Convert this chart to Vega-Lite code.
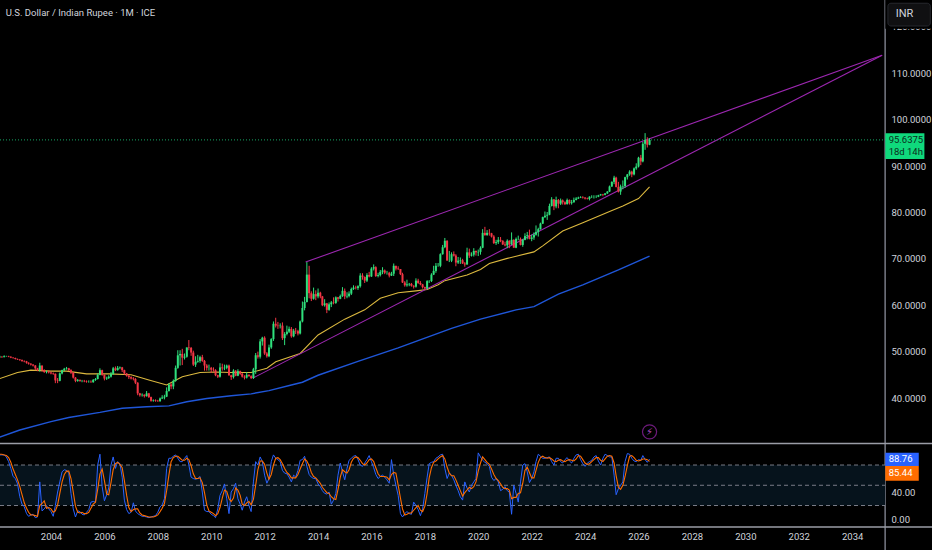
{"$schema":"https://vega.github.io/schema/vega-lite/v6.json","width":932,"height":550,"padding":0,"autosize":{"type":"none"},"background":"#000000","config":{"view":{"stroke":null},"font":"Roboto"},
"datasets":{"candles":[
{"t":"2002-02","o":48.8,"h":49.1,"l":48.7,"c":48.9,"k":95,"d":96},
{"t":"2002-03","o":48.9,"h":49.0,"l":48.7,"c":48.8,"k":95,"d":96},
{"t":"2002-04","o":48.8,"h":49.2,"l":48.8,"c":49.0,"k":95,"d":95},
{"t":"2002-05","o":49.0,"h":49.1,"l":48.9,"c":49.0,"k":92,"d":94},
{"t":"2002-06","o":49.0,"h":49.1,"l":48.8,"c":48.9,"k":85,"d":91},
{"t":"2002-07","o":48.9,"h":49.0,"l":48.6,"c":48.7,"k":75,"d":84},
{"t":"2002-08","o":48.7,"h":48.8,"l":48.5,"c":48.6,"k":63,"d":74},
{"t":"2002-09","o":48.6,"h":48.7,"l":48.3,"c":48.4,"k":60,"d":66},
{"t":"2002-10","o":48.4,"h":48.5,"l":48.2,"c":48.3,"k":52,"d":58},
{"t":"2002-11","o":48.3,"h":48.4,"l":48.0,"c":48.2,"k":33,"d":48},
{"t":"2002-12","o":48.2,"h":48.3,"l":47.8,"c":48.0,"k":22,"d":36},
{"t":"2003-01","o":48.0,"h":48.1,"l":47.7,"c":47.9,"k":18,"d":24},
{"t":"2003-02","o":47.9,"h":48.0,"l":47.4,"c":47.6,"k":8,"d":16},
{"t":"2003-03","o":47.6,"h":47.7,"l":47.2,"c":47.4,"k":4,"d":10},
{"t":"2003-04","o":47.4,"h":47.5,"l":47.0,"c":47.2,"k":6,"d":6},
{"t":"2003-05","o":47.2,"h":47.3,"l":46.8,"c":47.0,"k":7,"d":6},
{"t":"2003-06","o":47.0,"h":47.1,"l":46.0,"c":46.4,"k":2,"d":5},
{"t":"2003-07","o":46.4,"h":46.5,"l":45.8,"c":46.0,"k":3,"d":4},
{"t":"2003-08","o":46.0,"h":47.6,"l":45.7,"c":47.0,"k":55,"d":20},
{"t":"2003-09","o":47.0,"h":47.0,"l":45.7,"c":46.0,"k":12,"d":23},
{"t":"2003-10","o":46.0,"h":46.2,"l":45.4,"c":45.6,"k":15,"d":27},
{"t":"2003-11","o":45.6,"h":45.9,"l":45.3,"c":45.7,"k":20,"d":16},
{"t":"2003-12","o":45.7,"h":45.9,"l":45.3,"c":45.5,"k":15,"d":17},
{"t":"2004-01","o":45.5,"h":45.7,"l":45.1,"c":45.3,"k":11,"d":15},
{"t":"2004-02","o":45.3,"h":45.5,"l":45.0,"c":45.2,"k":4,"d":10},
{"t":"2004-03","o":45.2,"h":45.3,"l":43.2,"c":43.8,"k":20,"d":12},
{"t":"2004-04","o":43.8,"h":44.3,"l":43.2,"c":43.7,"k":40,"d":21},
{"t":"2004-05","o":43.7,"h":45.5,"l":43.6,"c":45.3,"k":55,"d":38},
{"t":"2004-06","o":45.3,"h":46.1,"l":45.1,"c":46.0,"k":70,"d":55},
{"t":"2004-07","o":46.0,"h":46.5,"l":45.8,"c":46.3,"k":73,"d":66},
{"t":"2004-08","o":46.3,"h":46.7,"l":46.1,"c":46.4,"k":72,"d":71},
{"t":"2004-09","o":46.4,"h":46.5,"l":45.8,"c":46.0,"k":68,"d":71},
{"t":"2004-10","o":46.0,"h":46.2,"l":45.2,"c":45.5,"k":38,"d":60},
{"t":"2004-11","o":45.5,"h":45.6,"l":44.2,"c":44.4,"k":15,"d":40},
{"t":"2004-12","o":44.4,"h":44.5,"l":43.4,"c":43.7,"k":3,"d":19},
{"t":"2005-01","o":43.7,"h":44.1,"l":43.5,"c":43.9,"k":12,"d":10},
{"t":"2005-02","o":43.9,"h":44.0,"l":43.5,"c":43.7,"k":11,"d":9},
{"t":"2005-03","o":43.7,"h":43.9,"l":43.4,"c":43.7,"k":7,"d":10},
{"t":"2005-04","o":43.7,"h":43.9,"l":43.4,"c":43.6,"k":6,"d":8},
{"t":"2005-05","o":43.6,"h":43.8,"l":43.3,"c":43.5,"k":10,"d":8},
{"t":"2005-06","o":43.5,"h":43.8,"l":43.3,"c":43.5,"k":14,"d":10},
{"t":"2005-07","o":43.5,"h":43.8,"l":43.3,"c":43.4,"k":25,"d":16},
{"t":"2005-08","o":43.4,"h":44.1,"l":43.3,"c":43.9,"k":26,"d":22},
{"t":"2005-09","o":43.9,"h":44.3,"l":43.7,"c":44.1,"k":25,"d":25},
{"t":"2005-10","o":44.1,"h":45.3,"l":44.0,"c":45.0,"k":80,"d":44},
{"t":"2005-11","o":45.0,"h":46.4,"l":44.9,"c":46.0,"k":96,"d":67},
{"t":"2005-12","o":46.0,"h":46.1,"l":44.8,"c":45.0,"k":48,"d":74},
{"t":"2006-01","o":45.0,"h":45.1,"l":43.8,"c":44.2,"k":27,"d":57},
{"t":"2006-02","o":44.2,"h":44.6,"l":43.9,"c":44.3,"k":36,"d":37},
{"t":"2006-03","o":44.3,"h":44.9,"l":44.1,"c":44.6,"k":46,"d":36},
{"t":"2006-04","o":44.6,"h":45.6,"l":44.4,"c":45.2,"k":80,"d":54},
{"t":"2006-05","o":45.2,"h":46.7,"l":45.0,"c":46.4,"k":92,"d":73},
{"t":"2006-06","o":46.4,"h":46.8,"l":45.8,"c":46.0,"k":75,"d":82},
{"t":"2006-07","o":46.0,"h":46.9,"l":45.9,"c":46.5,"k":85,"d":84},
{"t":"2006-08","o":46.5,"h":46.8,"l":46.2,"c":46.6,"k":82,"d":81},
{"t":"2006-09","o":46.6,"h":46.7,"l":45.6,"c":46.0,"k":62,"d":76},
{"t":"2006-10","o":46.0,"h":46.1,"l":45.0,"c":45.3,"k":28,"d":57},
{"t":"2006-11","o":45.3,"h":45.4,"l":44.6,"c":44.8,"k":14,"d":35},
{"t":"2006-12","o":44.8,"h":45.0,"l":44.1,"c":44.5,"k":8,"d":17},
{"t":"2007-01","o":44.5,"h":44.7,"l":44.0,"c":44.2,"k":10,"d":11},
{"t":"2007-02","o":44.2,"h":44.5,"l":43.8,"c":44.1,"k":24,"d":14},
{"t":"2007-03","o":44.1,"h":44.3,"l":43.0,"c":43.3,"k":12,"d":15},
{"t":"2007-04","o":43.3,"h":43.4,"l":40.6,"c":41.0,"k":8,"d":15},
{"t":"2007-05","o":41.0,"h":41.1,"l":40.3,"c":40.6,"k":6,"d":9},
{"t":"2007-06","o":40.6,"h":41.0,"l":40.3,"c":40.7,"k":4,"d":6},
{"t":"2007-07","o":40.7,"h":40.8,"l":40.1,"c":40.4,"k":4,"d":5},
{"t":"2007-08","o":40.4,"h":41.5,"l":40.3,"c":41.0,"k":3,"d":4},
{"t":"2007-09","o":41.0,"h":41.1,"l":40.0,"c":40.2,"k":2,"d":3},
{"t":"2007-10","o":40.2,"h":40.3,"l":39.2,"c":39.4,"k":3,"d":3},
{"t":"2007-11","o":39.4,"h":39.7,"l":39.2,"c":39.5,"k":4,"d":3},
{"t":"2007-12","o":39.5,"h":39.7,"l":39.2,"c":39.4,"k":5,"d":4},
{"t":"2008-01","o":39.4,"h":39.6,"l":39.2,"c":39.3,"k":10,"d":6},
{"t":"2008-02","o":39.3,"h":40.1,"l":39.2,"c":39.9,"k":18,"d":11},
{"t":"2008-03","o":39.9,"h":40.6,"l":39.8,"c":40.1,"k":21,"d":16},
{"t":"2008-04","o":40.1,"h":40.7,"l":39.7,"c":40.3,"k":30,"d":23},
{"t":"2008-05","o":40.3,"h":42.3,"l":40.2,"c":41.5,"k":75,"d":42},
{"t":"2008-06","o":41.5,"h":43.2,"l":41.4,"c":42.9,"k":90,"d":65},
{"t":"2008-07","o":42.9,"h":43.2,"l":41.9,"c":42.5,"k":90,"d":85},
{"t":"2008-08","o":42.5,"h":44.0,"l":41.9,"c":43.7,"k":93,"d":91},
{"t":"2008-09","o":43.7,"h":47.0,"l":43.5,"c":46.5,"k":95,"d":93},
{"t":"2008-10","o":46.5,"h":50.3,"l":46.3,"c":49.2,"k":90,"d":93},
{"t":"2008-11","o":49.2,"h":50.3,"l":47.0,"c":49.5,"k":85,"d":90},
{"t":"2008-12","o":49.5,"h":50.6,"l":47.1,"c":48.7,"k":85,"d":87},
{"t":"2009-01","o":48.7,"h":49.6,"l":48.3,"c":48.9,"k":90,"d":87},
{"t":"2009-02","o":48.9,"h":50.9,"l":48.7,"c":50.9,"k":94,"d":90},
{"t":"2009-03","o":50.9,"h":52.5,"l":50.3,"c":50.8,"k":80,"d":88},
{"t":"2009-04","o":50.8,"h":51.0,"l":49.1,"c":49.8,"k":62,"d":79},
{"t":"2009-05","o":49.8,"h":50.2,"l":46.9,"c":47.2,"k":60,"d":67},
{"t":"2009-06","o":47.2,"h":49.0,"l":46.7,"c":47.8,"k":59,"d":60},
{"t":"2009-07","o":47.8,"h":49.3,"l":47.6,"c":48.0,"k":60,"d":60},
{"t":"2009-08","o":48.0,"h":49.1,"l":47.6,"c":48.8,"k":63,"d":61},
{"t":"2009-09","o":48.8,"h":49.3,"l":47.8,"c":48.0,"k":40,"d":54},
{"t":"2009-10","o":48.0,"h":48.2,"l":45.9,"c":47.0,"k":13,"d":39},
{"t":"2009-11","o":47.0,"h":47.3,"l":45.9,"c":46.5,"k":11,"d":21},
{"t":"2009-12","o":46.5,"h":47.2,"l":45.9,"c":46.5,"k":11,"d":12},
{"t":"2010-01","o":46.5,"h":46.7,"l":45.4,"c":46.1,"k":7,"d":10},
{"t":"2010-02","o":46.1,"h":46.6,"l":45.7,"c":46.0,"k":5,"d":8},
{"t":"2010-03","o":46.0,"h":46.2,"l":44.7,"c":44.9,"k":2,"d":5},
{"t":"2010-04","o":44.9,"h":45.0,"l":44.3,"c":44.6,"k":15,"d":8},
{"t":"2010-05","o":44.6,"h":47.5,"l":44.4,"c":46.6,"k":35,"d":17},
{"t":"2010-06","o":46.6,"h":47.4,"l":45.9,"c":46.4,"k":42,"d":31},
{"t":"2010-07","o":46.4,"h":47.2,"l":46.0,"c":46.5,"k":52,"d":43},
{"t":"2010-08","o":46.5,"h":47.2,"l":46.2,"c":47.0,"k":30,"d":41},
{"t":"2010-09","o":47.0,"h":47.2,"l":44.8,"c":44.9,"k":8,"d":30},
{"t":"2010-10","o":44.9,"h":45.0,"l":43.9,"c":44.5,"k":40,"d":26},
{"t":"2010-11","o":44.5,"h":46.2,"l":44.2,"c":45.9,"k":45,"d":31},
{"t":"2010-12","o":45.9,"h":46.0,"l":44.7,"c":44.8,"k":53,"d":46},
{"t":"2011-01","o":44.8,"h":46.2,"l":44.7,"c":45.8,"k":30,"d":43},
{"t":"2011-02","o":45.8,"h":45.9,"l":45.0,"c":45.2,"k":22,"d":35},
{"t":"2011-03","o":45.2,"h":45.4,"l":44.4,"c":44.6,"k":13,"d":22},
{"t":"2011-04","o":44.6,"h":44.9,"l":44.0,"c":44.4,"k":25,"d":20},
{"t":"2011-05","o":44.4,"h":45.6,"l":44.2,"c":45.0,"k":33,"d":24},
{"t":"2011-06","o":45.0,"h":45.1,"l":44.6,"c":44.7,"k":20,"d":26},
{"t":"2011-07","o":44.7,"h":44.9,"l":44.1,"c":44.3,"k":11,"d":21},
{"t":"2011-08","o":44.3,"h":46.5,"l":44.1,"c":46.2,"k":55,"d":29},
{"t":"2011-09","o":46.2,"h":49.7,"l":45.2,"c":49.2,"k":85,"d":50},
{"t":"2011-10","o":49.2,"h":50.0,"l":48.5,"c":48.9,"k":80,"d":73},
{"t":"2011-11","o":48.9,"h":52.7,"l":48.5,"c":52.2,"k":92,"d":86},
{"t":"2011-12","o":52.2,"h":53.2,"l":51.3,"c":53.0,"k":85,"d":86},
{"t":"2012-01","o":53.0,"h":53.3,"l":49.3,"c":49.6,"k":65,"d":81},
{"t":"2012-02","o":49.6,"h":49.9,"l":48.7,"c":49.0,"k":53,"d":68},
{"t":"2012-03","o":49.0,"h":51.5,"l":48.8,"c":50.9,"k":60,"d":59},
{"t":"2012-04","o":50.9,"h":52.9,"l":50.6,"c":52.7,"k":85,"d":66},
{"t":"2012-05","o":52.7,"h":56.5,"l":52.3,"c":56.0,"k":95,"d":80},
{"t":"2012-06","o":56.0,"h":57.3,"l":55.2,"c":55.6,"k":90,"d":90},
{"t":"2012-07","o":55.6,"h":56.4,"l":54.9,"c":55.5,"k":88,"d":91},
{"t":"2012-08","o":55.5,"h":56.1,"l":55.0,"c":55.6,"k":85,"d":88},
{"t":"2012-09","o":55.6,"h":56.3,"l":52.5,"c":52.9,"k":72,"d":82},
{"t":"2012-10","o":52.9,"h":54.2,"l":51.4,"c":53.8,"k":68,"d":75},
{"t":"2012-11","o":53.8,"h":55.6,"l":53.5,"c":54.3,"k":67,"d":69},
{"t":"2012-12","o":54.3,"h":55.4,"l":54.0,"c":54.9,"k":62,"d":66},
{"t":"2013-01","o":54.9,"h":55.3,"l":53.0,"c":53.3,"k":55,"d":61},
{"t":"2013-02","o":53.3,"h":54.9,"l":53.1,"c":54.5,"k":65,"d":61},
{"t":"2013-03","o":54.5,"h":55.1,"l":53.8,"c":54.4,"k":62,"d":61},
{"t":"2013-04","o":54.4,"h":54.7,"l":53.5,"c":53.9,"k":72,"d":66},
{"t":"2013-05","o":53.9,"h":56.7,"l":53.7,"c":56.5,"k":87,"d":74},
{"t":"2013-06","o":56.5,"h":60.8,"l":56.3,"c":59.4,"k":88,"d":82},
{"t":"2013-07","o":59.4,"h":61.8,"l":58.9,"c":60.7,"k":93,"d":89},
{"t":"2013-08","o":60.7,"h":69.3,"l":60.6,"c":66.6,"k":78,"d":86},
{"t":"2013-09","o":66.6,"h":68.5,"l":61.5,"c":62.6,"k":66,"d":79},
{"t":"2013-10","o":62.6,"h":63.0,"l":60.9,"c":61.4,"k":62,"d":69},
{"t":"2013-11","o":61.4,"h":63.8,"l":61.2,"c":62.4,"k":60,"d":63},
{"t":"2013-12","o":62.4,"h":63.2,"l":61.1,"c":61.9,"k":60,"d":61},
{"t":"2014-01","o":61.9,"h":63.6,"l":61.5,"c":62.7,"k":52,"d":57},
{"t":"2014-02","o":62.7,"h":62.9,"l":61.5,"c":61.9,"k":48,"d":53},
{"t":"2014-03","o":61.9,"h":62.0,"l":59.8,"c":60.0,"k":42,"d":47},
{"t":"2014-04","o":60.0,"h":61.3,"l":59.7,"c":60.4,"k":38,"d":43},
{"t":"2014-05","o":60.4,"h":60.5,"l":58.3,"c":59.0,"k":37,"d":39},
{"t":"2014-06","o":59.0,"h":60.6,"l":58.8,"c":60.2,"k":40,"d":38},
{"t":"2014-07","o":60.2,"h":60.9,"l":59.6,"c":60.6,"k":22,"d":33},
{"t":"2014-08","o":60.6,"h":61.7,"l":60.2,"c":60.5,"k":28,"d":30},
{"t":"2014-09","o":60.5,"h":61.9,"l":60.3,"c":61.7,"k":38,"d":29},
{"t":"2014-10","o":61.7,"h":61.8,"l":60.8,"c":61.4,"k":65,"d":44},
{"t":"2014-11","o":61.4,"h":62.3,"l":61.3,"c":62.0,"k":83,"d":62},
{"t":"2014-12","o":62.0,"h":63.9,"l":61.8,"c":63.1,"k":70,"d":73},
{"t":"2015-01","o":63.1,"h":63.6,"l":61.3,"c":61.9,"k":58,"d":70},
{"t":"2015-02","o":61.9,"h":62.8,"l":61.5,"c":62.0,"k":75,"d":68},
{"t":"2015-03","o":62.0,"h":63.0,"l":61.7,"c":62.5,"k":87,"d":73},
{"t":"2015-04","o":62.5,"h":63.8,"l":62.2,"c":63.5,"k":90,"d":84},
{"t":"2015-05","o":63.5,"h":64.3,"l":63.3,"c":63.8,"k":93,"d":90},
{"t":"2015-06","o":63.8,"h":64.2,"l":63.4,"c":63.7,"k":94,"d":92},
{"t":"2015-07","o":63.7,"h":64.3,"l":63.3,"c":64.1,"k":88,"d":91},
{"t":"2015-08","o":64.1,"h":66.9,"l":63.8,"c":66.4,"k":80,"d":87},
{"t":"2015-09","o":66.4,"h":66.9,"l":65.5,"c":66.1,"k":78,"d":82},
{"t":"2015-10","o":66.1,"h":66.2,"l":64.8,"c":65.3,"k":83,"d":80},
{"t":"2015-11","o":65.3,"h":66.9,"l":65.0,"c":66.5,"k":88,"d":83},
{"t":"2015-12","o":66.5,"h":67.2,"l":66.0,"c":66.2,"k":94,"d":88},
{"t":"2016-01","o":66.2,"h":68.2,"l":66.1,"c":67.9,"k":85,"d":89},
{"t":"2016-02","o":67.9,"h":68.8,"l":67.5,"c":68.2,"k":76,"d":85},
{"t":"2016-03","o":68.2,"h":68.4,"l":66.1,"c":66.3,"k":66,"d":76},
{"t":"2016-04","o":66.3,"h":67.0,"l":66.0,"c":66.5,"k":60,"d":67},
{"t":"2016-05","o":66.5,"h":67.6,"l":66.2,"c":67.2,"k":63,"d":63},
{"t":"2016-06","o":67.2,"h":68.2,"l":66.7,"c":67.5,"k":65,"d":63},
{"t":"2016-07","o":67.5,"h":67.7,"l":66.7,"c":67.0,"k":62,"d":63},
{"t":"2016-08","o":67.0,"h":67.4,"l":66.6,"c":67.0,"k":58,"d":62},
{"t":"2016-09","o":67.0,"h":67.2,"l":66.0,"c":66.4,"k":53,"d":58},
{"t":"2016-10","o":66.4,"h":67.2,"l":66.3,"c":66.8,"k":88,"d":66},
{"t":"2016-11","o":66.8,"h":69.0,"l":66.3,"c":68.5,"k":65,"d":69},
{"t":"2016-12","o":68.5,"h":68.5,"l":67.5,"c":67.9,"k":50,"d":68},
{"t":"2017-01","o":67.9,"h":68.4,"l":67.6,"c":67.8,"k":35,"d":50},
{"t":"2017-02","o":67.8,"h":67.8,"l":66.5,"c":66.7,"k":8,"d":31},
{"t":"2017-03","o":66.7,"h":67.0,"l":64.8,"c":64.9,"k":3,"d":15},
{"t":"2017-04","o":64.9,"h":65.2,"l":64.0,"c":64.3,"k":8,"d":6},
{"t":"2017-05","o":64.3,"h":65.5,"l":64.0,"c":64.5,"k":11,"d":7},
{"t":"2017-06","o":64.5,"h":64.8,"l":64.1,"c":64.6,"k":8,"d":9},
{"t":"2017-07","o":64.6,"h":64.8,"l":64.0,"c":64.2,"k":7,"d":9},
{"t":"2017-08","o":64.2,"h":64.3,"l":63.6,"c":64.0,"k":25,"d":13},
{"t":"2017-09","o":64.0,"h":65.8,"l":63.8,"c":65.3,"k":20,"d":17},
{"t":"2017-10","o":65.3,"h":65.7,"l":64.6,"c":64.8,"k":14,"d":20},
{"t":"2017-11","o":64.8,"h":65.2,"l":64.3,"c":64.5,"k":5,"d":13},
{"t":"2017-12","o":64.5,"h":64.6,"l":63.6,"c":63.9,"k":15,"d":11},
{"t":"2018-01","o":63.9,"h":64.0,"l":63.3,"c":63.6,"k":38,"d":19},
{"t":"2018-02","o":63.6,"h":65.4,"l":63.5,"c":65.2,"k":62,"d":38},
{"t":"2018-03","o":65.2,"h":65.4,"l":64.8,"c":65.2,"k":82,"d":61},
{"t":"2018-04","o":65.2,"h":66.9,"l":65.0,"c":66.6,"k":84,"d":76},
{"t":"2018-05","o":66.6,"h":68.5,"l":66.5,"c":67.4,"k":85,"d":84},
{"t":"2018-06","o":67.4,"h":69.1,"l":67.0,"c":68.5,"k":90,"d":86},
{"t":"2018-07","o":68.5,"h":69.1,"l":68.3,"c":68.5,"k":92,"d":89},
{"t":"2018-08","o":68.5,"h":71.2,"l":68.2,"c":71.0,"k":95,"d":92},
{"t":"2018-09","o":71.0,"h":73.0,"l":70.9,"c":72.5,"k":96,"d":94},
{"t":"2018-10","o":72.5,"h":74.5,"l":72.3,"c":73.9,"k":75,"d":89},
{"t":"2018-11","o":73.9,"h":74.0,"l":69.7,"c":69.6,"k":60,"d":77},
{"t":"2018-12","o":69.6,"h":71.7,"l":69.3,"c":69.6,"k":68,"d":68},
{"t":"2019-01","o":69.6,"h":71.4,"l":69.3,"c":71.0,"k":65,"d":64},
{"t":"2019-02","o":71.0,"h":71.6,"l":70.5,"c":70.7,"k":58,"d":64},
{"t":"2019-03","o":70.7,"h":71.0,"l":68.4,"c":69.2,"k":50,"d":58},
{"t":"2019-04","o":69.2,"h":70.4,"l":68.9,"c":69.6,"k":42,"d":50},
{"t":"2019-05","o":69.6,"h":70.3,"l":68.9,"c":69.7,"k":33,"d":42},
{"t":"2019-06","o":69.7,"h":70.0,"l":68.9,"c":69.0,"k":28,"d":34},
{"t":"2019-07","o":69.0,"h":69.3,"l":68.3,"c":68.8,"k":55,"d":39},
{"t":"2019-08","o":68.8,"h":72.4,"l":68.7,"c":71.4,"k":46,"d":43},
{"t":"2019-09","o":71.4,"h":72.2,"l":70.2,"c":70.7,"k":40,"d":47},
{"t":"2019-10","o":70.7,"h":71.4,"l":70.5,"c":70.9,"k":50,"d":45},
{"t":"2019-11","o":70.9,"h":72.3,"l":70.5,"c":71.7,"k":55,"d":48},
{"t":"2019-12","o":71.7,"h":71.8,"l":70.7,"c":71.4,"k":60,"d":55},
{"t":"2020-01","o":71.4,"h":72.0,"l":70.6,"c":71.5,"k":98,"d":71},
{"t":"2020-02","o":71.5,"h":72.7,"l":70.9,"c":72.4,"k":92,"d":83},
{"t":"2020-03","o":72.4,"h":76.4,"l":72.3,"c":75.6,"k":87,"d":92},
{"t":"2020-04","o":75.6,"h":76.9,"l":75.0,"c":75.1,"k":84,"d":88},
{"t":"2020-05","o":75.1,"h":76.2,"l":75.0,"c":75.6,"k":82,"d":84},
{"t":"2020-06","o":75.6,"h":76.4,"l":75.0,"c":75.5,"k":78,"d":81},
{"t":"2020-07","o":75.5,"h":75.6,"l":74.6,"c":74.8,"k":62,"d":74},
{"t":"2020-08","o":74.8,"h":75.1,"l":73.2,"c":73.4,"k":57,"d":66},
{"t":"2020-09","o":73.4,"h":74.1,"l":73.0,"c":73.6,"k":60,"d":60},
{"t":"2020-10","o":73.6,"h":74.7,"l":73.2,"c":74.1,"k":55,"d":57},
{"t":"2020-11","o":74.1,"h":74.7,"l":73.6,"c":73.9,"k":42,"d":52},
{"t":"2020-12","o":73.9,"h":74.0,"l":73.0,"c":73.1,"k":44,"d":47},
{"t":"2021-01","o":73.1,"h":73.7,"l":72.7,"c":72.9,"k":48,"d":45},
{"t":"2021-02","o":72.9,"h":74.2,"l":72.3,"c":73.9,"k":42,"d":45},
{"t":"2021-03","o":73.9,"h":74.0,"l":72.3,"c":73.1,"k":40,"d":43},
{"t":"2021-04","o":73.1,"h":75.7,"l":73.0,"c":74.1,"k":7,"d":30},
{"t":"2021-05","o":74.1,"h":74.2,"l":72.4,"c":72.4,"k":50,"d":32},
{"t":"2021-06","o":72.4,"h":74.6,"l":72.3,"c":74.3,"k":38,"d":32},
{"t":"2021-07","o":74.3,"h":75.0,"l":74.0,"c":74.3,"k":25,"d":38},
{"t":"2021-08","o":74.3,"h":74.6,"l":72.9,"c":73.0,"k":55,"d":39},
{"t":"2021-09","o":73.0,"h":74.3,"l":72.6,"c":74.1,"k":80,"d":53},
{"t":"2021-10","o":74.1,"h":75.5,"l":74.0,"c":74.9,"k":82,"d":72},
{"t":"2021-11","o":74.9,"h":75.8,"l":74.2,"c":75.1,"k":70,"d":77},
{"t":"2021-12","o":75.1,"h":76.3,"l":74.2,"c":74.3,"k":54,"d":69},
{"t":"2022-01","o":74.3,"h":75.2,"l":73.8,"c":74.6,"k":60,"d":61},
{"t":"2022-02","o":74.6,"h":75.7,"l":74.1,"c":75.2,"k":70,"d":61},
{"t":"2022-03","o":75.2,"h":77.2,"l":75.0,"c":75.8,"k":85,"d":72},
{"t":"2022-04","o":75.8,"h":76.7,"l":74.8,"c":76.4,"k":96,"d":84},
{"t":"2022-05","o":76.4,"h":77.8,"l":76.3,"c":77.6,"k":93,"d":91},
{"t":"2022-06","o":77.6,"h":79.1,"l":77.5,"c":79.0,"k":90,"d":93},
{"t":"2022-07","o":79.0,"h":80.2,"l":78.8,"c":79.3,"k":90,"d":91},
{"t":"2022-08","o":79.3,"h":80.1,"l":78.4,"c":79.5,"k":91,"d":90},
{"t":"2022-09","o":79.5,"h":81.9,"l":79.4,"c":81.4,"k":92,"d":91},
{"t":"2022-10","o":81.4,"h":83.3,"l":81.3,"c":82.8,"k":85,"d":89},
{"t":"2022-11","o":82.8,"h":82.9,"l":80.5,"c":81.3,"k":80,"d":86},
{"t":"2022-12","o":81.3,"h":83.4,"l":80.9,"c":82.7,"k":90,"d":85},
{"t":"2023-01","o":82.7,"h":82.9,"l":80.9,"c":81.9,"k":90,"d":87},
{"t":"2023-02","o":81.9,"h":83.0,"l":81.6,"c":82.6,"k":85,"d":88},
{"t":"2023-03","o":82.6,"h":82.8,"l":81.7,"c":82.2,"k":83,"d":86},
{"t":"2023-04","o":82.2,"h":82.4,"l":81.6,"c":81.8,"k":88,"d":85},
{"t":"2023-05","o":81.8,"h":83.0,"l":81.7,"c":82.7,"k":91,"d":87},
{"t":"2023-06","o":82.7,"h":82.8,"l":81.7,"c":82.0,"k":86,"d":88},
{"t":"2023-07","o":82.0,"h":82.7,"l":81.7,"c":82.2,"k":83,"d":87},
{"t":"2023-08","o":82.2,"h":83.2,"l":82.1,"c":82.7,"k":90,"d":86},
{"t":"2023-09","o":82.7,"h":83.3,"l":82.6,"c":83.0,"k":95,"d":89},
{"t":"2023-10","o":83.0,"h":83.4,"l":82.9,"c":83.2,"k":96,"d":94},
{"t":"2023-11","o":83.2,"h":83.5,"l":83.1,"c":83.3,"k":88,"d":93},
{"t":"2023-12","o":83.3,"h":83.5,"l":83.0,"c":83.2,"k":82,"d":88},
{"t":"2024-01","o":83.2,"h":83.3,"l":82.8,"c":83.0,"k":78,"d":83},
{"t":"2024-02","o":83.0,"h":83.2,"l":82.8,"c":82.9,"k":83,"d":81},
{"t":"2024-03","o":82.9,"h":83.5,"l":82.6,"c":83.4,"k":85,"d":82},
{"t":"2024-04","o":83.4,"h":83.7,"l":83.1,"c":83.4,"k":87,"d":85},
{"t":"2024-05","o":83.4,"h":83.7,"l":83.0,"c":83.4,"k":92,"d":88},
{"t":"2024-06","o":83.4,"h":83.7,"l":83.1,"c":83.4,"k":94,"d":91},
{"t":"2024-07","o":83.4,"h":83.8,"l":83.3,"c":83.7,"k":86,"d":91},
{"t":"2024-08","o":83.7,"h":84.0,"l":83.6,"c":83.9,"k":80,"d":87},
{"t":"2024-09","o":83.9,"h":84.0,"l":83.5,"c":83.8,"k":90,"d":85},
{"t":"2024-10","o":83.8,"h":84.2,"l":83.7,"c":84.1,"k":96,"d":89},
{"t":"2024-11","o":84.1,"h":84.6,"l":84.0,"c":84.5,"k":94,"d":93},
{"t":"2024-12","o":84.5,"h":85.8,"l":84.4,"c":85.6,"k":92,"d":94},
{"t":"2025-01","o":85.6,"h":86.7,"l":85.5,"c":86.6,"k":92,"d":93},
{"t":"2025-02","o":86.6,"h":87.9,"l":86.1,"c":87.5,"k":65,"d":83},
{"t":"2025-03","o":87.5,"h":87.7,"l":85.4,"c":85.5,"k":36,"d":64},
{"t":"2025-04","o":85.5,"h":86.6,"l":84.3,"c":84.5,"k":45,"d":47},
{"t":"2025-05","o":84.5,"h":86.0,"l":83.8,"c":85.6,"k":50,"d":44},
{"t":"2025-06","o":85.6,"h":86.9,"l":85.0,"c":85.7,"k":55,"d":50},
{"t":"2025-07","o":85.7,"h":87.7,"l":85.3,"c":87.6,"k":85,"d":63},
{"t":"2025-08","o":87.6,"h":88.3,"l":87.1,"c":88.2,"k":97,"d":79},
{"t":"2025-09","o":88.2,"h":89.1,"l":87.9,"c":88.8,"k":96,"d":93},
{"t":"2025-10","o":88.8,"h":89.0,"l":87.6,"c":88.2,"k":90,"d":94},
{"t":"2025-11","o":88.2,"h":89.7,"l":88.0,"c":89.5,"k":86,"d":91},
{"t":"2025-12","o":89.5,"h":90.6,"l":89.2,"c":89.9,"k":85,"d":87},
{"t":"2026-01","o":89.9,"h":92.0,"l":89.7,"c":91.8,"k":88,"d":86},
{"t":"2026-02","o":91.8,"h":92.4,"l":90.2,"c":91.0,"k":87,"d":87},
{"t":"2026-03","o":91.0,"h":95.2,"l":90.8,"c":94.8,"k":94,"d":89},
{"t":"2026-04","o":94.8,"h":97.1,"l":93.5,"c":95.6,"k":88,"d":89},
{"t":"2026-05","o":95.6,"h":96.2,"l":94.0,"c":94.6,"k":84,"d":88},
{"t":"2026-06","o":94.6,"h":96.0,"l":94.5,"c":95.64,"k":88.76,"d":85.44}
],
"ma50":[{"t":"2002-02","v":44.2},{"t":"2002-10","v":45.5},{"t":"2003-04","v":46.0},{"t":"2004-01","v":45.8},{"t":"2004-08","v":45.8},{"t":"2005-05","v":45.2},{"t":"2006-03","v":45.2},{"t":"2007-01","v":45.0},{"t":"2007-09","v":43.9},{"t":"2008-05","v":42.8},{"t":"2008-12","v":44.6},{"t":"2009-08","v":45.5},{"t":"2010-03","v":45.6},{"t":"2010-10","v":45.5},{"t":"2011-07","v":45.5},{"t":"2012-02","v":46.4},{"t":"2012-06","v":47.8},{"t":"2013-05","v":49.6},{"t":"2014-01","v":53.6},{"t":"2015-01","v":57.0},{"t":"2015-10","v":59.0},{"t":"2016-05","v":61.5},{"t":"2017-01","v":62.7},{"t":"2017-09","v":63.1},{"t":"2018-02","v":63.4},{"t":"2018-07","v":64.4},{"t":"2018-10","v":65.3},{"t":"2019-08","v":66.5},{"t":"2020-02","v":67.7},{"t":"2020-06","v":69.0},{"t":"2021-02","v":70.1},{"t":"2022-02","v":71.5},{"t":"2022-06","v":72.8},{"t":"2023-03","v":76.0},{"t":"2023-12","v":77.8},{"t":"2024-12","v":80.2},{"t":"2025-06","v":81.4},{"t":"2026-01","v":83.0},{"t":"2026-06","v":85.5}],
"ma200":[{"t":"2002-02","v":31.6},{"t":"2002-11","v":33.1},{"t":"2004-01","v":34.9},{"t":"2004-09","v":35.8},{"t":"2005-11","v":36.9},{"t":"2006-09","v":37.8},{"t":"2007-08","v":38.1},{"t":"2008-06","v":38.3},{"t":"2009-02","v":39.2},{"t":"2009-11","v":39.9},{"t":"2010-10","v":40.5},{"t":"2011-07","v":40.9},{"t":"2012-03","v":41.6},{"t":"2013-01","v":42.8},{"t":"2013-06","v":43.4},{"t":"2014-01","v":44.9},{"t":"2015-07","v":47.9},{"t":"2017-01","v":50.8},{"t":"2019-01","v":55.0},{"t":"2020-02","v":57.0},{"t":"2021-06","v":59.0},{"t":"2022-02","v":59.7},{"t":"2023-01","v":62.4},{"t":"2023-12","v":64.4},{"t":"2025-04","v":67.6},{"t":"2026-06","v":70.6}],
"trend":[{"line":"upper","t":"2013-07-15","v":69.3},{"line":"upper","t":"2035-02-15","v":113.9},{"line":"lower","t":"2011-07-25","v":44.3},{"line":"lower","t":"2035-02-15","v":113.9}]
},
"resolve":{"scale":{"y":"independent"},"axis":{"y":"independent"}},
"layer":[
{"layer":[
{"data":{"name":"ma200"},"mark":{"type":"line","color":"#1f56d8","strokeWidth":1.4},"encoding":{"x":{"field":"t","type":"temporal","scale":{"domain":["2002-02-03","2036-12-28"],"nice":false,"padding":0},"axis":{"orient":"bottom","offset":-23,"title":null,"format":"%Y","tickCount":{"interval":"year","step":2},"labelExpr":"(year(datum.value)<2003||year(datum.value)>2035)?'':timeFormat(datum.value,'%Y')","grid":false,"ticks":false,"domain":false,"labelColor":"#d1d4dc","labelFontSize":9.5,"labelPadding":4,"labelOverlap":false,"labelFlush":false}},"y":{"field":"v","type":"quantitative","scale":{"domain":[30.3,125.8],"range":[443,0],"nice":false,"zero":false},"axis":{"orient":"right","offset":-47,"title":null,"values":[40,50,60,70,80,90,100,110,120],"format":".4f","grid":false,"ticks":false,"domain":false,"labelColor":"#d1d4dc","labelFontSize":9.5,"labelPadding":6}}}},
{"data":{"name":"ma50"},"mark":{"type":"line","color":"#dcb93f","strokeWidth":1.1},"encoding":{"x":{"field":"t","type":"temporal"},"y":{"field":"v","type":"quantitative"}}},
{"data":{"name":"trend"},"mark":{"type":"line","color":"#9c27b0","strokeWidth":1.1},"encoding":{"x":{"field":"t","type":"temporal"},"y":{"field":"v","type":"quantitative"},"detail":{"field":"line"}}},
{"data":{"values":[{"a":"2002-02-03","b":"2035-03-28","v":95.64}]},"mark":{"type":"rule","color":"#16a765","strokeWidth":1,"strokeDash":[1,2]},"encoding":{"x":{"field":"a","type":"temporal"},"x2":{"field":"b"},"y":{"field":"v","type":"quantitative"}}},
{"data":{"name":"candles"},"mark":{"type":"rule","strokeWidth":1},"encoding":{"x":{"field":"t","type":"temporal"},"y":{"field":"l","type":"quantitative"},"y2":{"field":"h"},"color":{"condition":{"test":"datum.c>=datum.o","value":"#2fe07c"},"value":"#f23645"}}},
{"data":{"name":"candles"},"mark":{"type":"bar","size":2},"encoding":{"x":{"field":"t","type":"temporal"},"y":{"field":"o","type":"quantitative"},"y2":{"field":"c"},"color":{"condition":{"test":"datum.c>=datum.o","value":"#2fe07c"},"value":"#f23645"}}},
{"data":{"values":[{"t":"2035-03-28"}]},"mark":{"type":"rule","color":"#787b86","strokeWidth":1.5},"encoding":{"x":{"field":"t","type":"temporal"}}},
{"data":{"values":[{"a":"2035-03-30","b":"2036-12-28","lo":119.6,"hi":125.8}]},"mark":{"type":"rect","color":"#000000"},"encoding":{"x":{"field":"a","type":"temporal"},"x2":{"field":"b"},"y":{"field":"lo","type":"quantitative"},"y2":{"field":"hi"}}},
{"data":{"values":[{"a":"2035-05-05","b":"2036-12-05","lo":120.2,"hi":125.1}]},"mark":{"type":"rect","color":"#101012","stroke":"#26282e","strokeWidth":1,"cornerRadius":3},"encoding":{"x":{"field":"a","type":"temporal"},"x2":{"field":"b"},"y":{"field":"lo","type":"quantitative"},"y2":{"field":"hi"}}},
{"data":{"values":[{"t":"2035-08-20","v":122.8,"label":"INR"}]},"mark":{"type":"text","align":"left","baseline":"middle","color":"#d1d4dc","fontSize":11},"encoding":{"x":{"field":"t","type":"temporal"},"y":{"field":"v","type":"quantitative"},"text":{"field":"label"}}},
{"data":{"values":[{"a":"2035-03-30","b":"2036-09-15","lo":91.5,"hi":97.1}]},"mark":{"type":"rect","color":"#0fd97c"},"encoding":{"x":{"field":"a","type":"temporal"},"x2":{"field":"b"},"y":{"field":"lo","type":"quantitative"},"y2":{"field":"hi"}}},
{"data":{"values":[{"t":"2035-05-15","v":95.7,"label":"95.6375"},{"t":"2035-05-15","v":93.0,"label":"18d 14h"}]},"mark":{"type":"text","align":"left","baseline":"middle","color":"#0b2b1b","fontSize":9.5},"encoding":{"x":{"field":"t","type":"temporal"},"y":{"field":"v","type":"quantitative"},"text":{"field":"label"}}},
{"data":{"values":[{"t":"2002-04-22","v":123.0,"label":"U.S. Dollar / Indian Rupee · 1M · ICE"}]},"mark":{"type":"text","align":"left","baseline":"middle","color":"#d1d4dc","fontSize":9.5},"encoding":{"x":{"field":"t","type":"temporal"},"y":{"field":"v","type":"quantitative"},"text":{"field":"label"}}},
{"data":{"values":[{"t":"2026-06","v":32.7}]},"mark":{"type":"point","shape":"circle","size":200,"filled":false,"color":"#9c27b0","strokeWidth":1.2},"encoding":{"x":{"field":"t","type":"temporal"},"y":{"field":"v","type":"quantitative"}}},
{"data":{"values":[{"t":"2026-06","v":32.7,"label":"⚡"}]},"mark":{"type":"text","color":"#ab47bc","fontSize":10,"font":"DejaVu Sans","align":"center","baseline":"middle"},"encoding":{"x":{"field":"t","type":"temporal"},"y":{"field":"v","type":"quantitative"},"text":{"field":"label"}}}
]},
{"layer":[
{"data":{"values":[{"a":"2002-02-03","b":"2035-03-28","lo":20,"hi":80}]},"mark":{"type":"rect","color":"#06131c"},"encoding":{"x":{"field":"a","type":"temporal"},"x2":{"field":"b"},"y":{"field":"lo","type":"quantitative","scale":{"domain":[-11.85,111.9],"range":[527,443.5],"nice":false,"zero":false},"axis":{"orient":"right","offset":-47,"title":null,"values":[0,40],"format":".2f","grid":false,"ticks":false,"domain":false,"labelColor":"#d1d4dc","labelFontSize":9.5,"labelPadding":6}},"y2":{"field":"hi"}}},
{"data":{"values":[{"a":"2002-02-03","b":"2035-03-28","v":80},{"a":"2002-02-03","b":"2035-03-28","v":50},{"a":"2002-02-03","b":"2035-03-28","v":20}]},"mark":{"type":"rule","color":"#787b86","strokeWidth":1,"strokeDash":[4,3]},"encoding":{"x":{"field":"a","type":"temporal"},"x2":{"field":"b"},"y":{"field":"v","type":"quantitative"}}},
{"data":{"name":"candles"},"mark":{"type":"line","color":"#2962ff","strokeWidth":1},"encoding":{"x":{"field":"t","type":"temporal"},"y":{"field":"k","type":"quantitative"}}},
{"data":{"name":"candles"},"mark":{"type":"line","color":"#ff6d00","strokeWidth":1.1},"encoding":{"x":{"field":"t","type":"temporal"},"y":{"field":"d","type":"quantitative"}}},
{"data":{"values":[{"v":111.9},{"v":-11.85}]},"mark":{"type":"rule","color":"#9a9da6","strokeWidth":1.3},"encoding":{"y":{"field":"v","type":"quantitative"}}},
{"data":{"values":[{"a":"2035-03-30","b":"2036-06-30","lo":78.5,"hi":98.2}]},"mark":{"type":"rect","color":"#2962ff"},"encoding":{"x":{"field":"a","type":"temporal"},"x2":{"field":"b"},"y":{"field":"lo","type":"quantitative"},"y2":{"field":"hi"}}},
{"data":{"values":[{"a":"2035-03-30","b":"2036-06-30","lo":56.7,"hi":78.5}]},"mark":{"type":"rect","color":"#ff6d00"},"encoding":{"x":{"field":"a","type":"temporal"},"x2":{"field":"b"},"y":{"field":"lo","type":"quantitative"},"y2":{"field":"hi"}}},
{"data":{"values":[{"t":"2035-05-15","v":88.5,"label":"88.76"},{"t":"2035-05-15","v":67.6,"label":"85.44"}]},"mark":{"type":"text","align":"left","baseline":"middle","color":"#ffffff","fontSize":9.5},"encoding":{"x":{"field":"t","type":"temporal"},"y":{"field":"v","type":"quantitative"},"text":{"field":"label"}}}
]}
]}
